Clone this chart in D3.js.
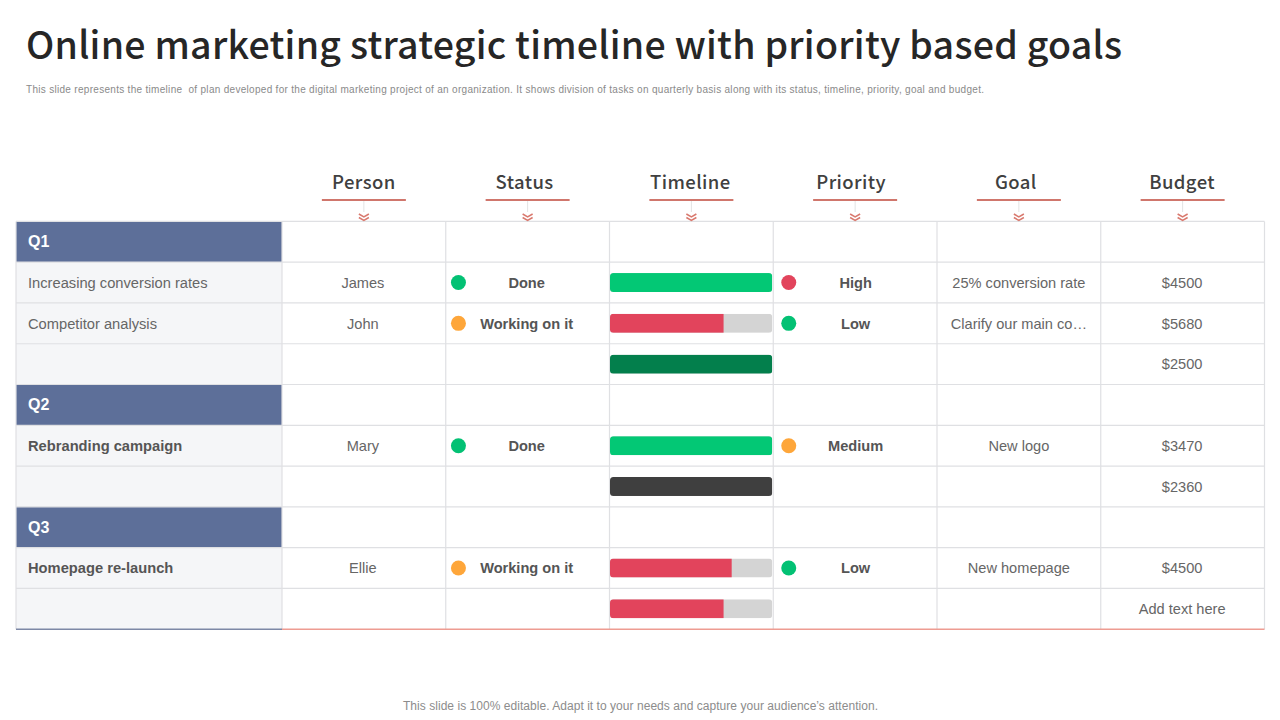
<!DOCTYPE html>
<html><head><meta charset="utf-8">
<script src="https://cdn.jsdelivr.net/npm/d3@7/dist/d3.min.js"></script>
<style>html,body{margin:0;padding:0;background:#fff}svg{display:block}text{font-family:"Liberation Sans",Arial,sans-serif}</style>
</head><body><svg id="c" width="1280" height="720"></svg>
<script>
const titleText = "Online marketing strategic timeline with priority based goals";
const subtitleText = "This slide represents the timeline  of plan developed for the digital marketing project of an organization. It shows division of tasks on quarterly basis along with its status, timeline, priority, goal and budget.";
const footerText = "This slide is 100% editable. Adapt it to your needs and capture your audience\u2019s attention.";
const columns = ["Person","Status","Timeline","Priority","Goal","Budget"];
const rowLabels = ["Q1","Increasing conversion rates","Competitor analysis","","Q2","Rebranding campaign","","Q3","Homepage re-launch",""];
const boldLabels = ["Q1","Q2","Q3","Rebranding campaign","Homepage re-launch"];
const persons = ["","James","John","","","Mary","","","Ellie",""];
const statuses = ["","Done","Working on it","","","Done","","","Working on it",""];
const priorities = ["","High","Low","","","Medium","","","Low",""];
const goals = ["","25% conversion rate","Clarify our main co\u2026","","","New logo","","","New homepage",""];
const budgets = ["","$4500","$5680","$2500","","$3470","$2360","","$4500","Add text here"];
const progress = [null,100,70,100,null,100,100,null,75,70];
const barKinds = ["","green","red","darkgreen","","green","charcoal","","red","red"];
const dotColors = {Done:"#03c174","Working on it":"#fea63a",High:"#e2445c",Low:"#03c174",Medium:"#fea63a"};
const barColors = {green:"#03c875",red:"#e2445c",darkgreen:"#037f4c",charcoal:"#3f3f3f"};

const svg = d3.select("#c");
const rows = d3.range(rowLabels.length);
const y = d3.scaleBand().domain(rows).range([221.4,629.2]);
const x = d3.scaleBand().domain(columns).range([282,1264.5]);
const left = 16, labelRight = x.range()[0], right = x.range()[1];
const cx = c => x(c)+x.bandwidth()/2;
const cy = i => y(i)+y.bandwidth()/2;
const grid = "#dfe0e3", textCol = "#666666";
const headerShift = {Person:0,Status:-3,Timeline:-1,Priority:-4,Goal:-3,Budget:-0.5};

svg.append("text").attr("x",26).attr("y",59).attr("font-size",37.5).attr("font-weight",500)
  .style("font-family","'Noto Sans CJK JP'").attr("fill","#262626").attr("textLength",1096).text(titleText);
svg.append("text").attr("x",26).attr("y",92.5).attr("font-size",10).attr("fill","#8a8a8a")
  .attr("textLength",958).attr("xml:space","preserve").text(subtitleText);
svg.append("text").attr("x",640.5).attr("y",709.5).attr("font-size",12).attr("text-anchor","middle")
  .attr("fill","#8c8c8c").attr("textLength",475).text(footerText);

// left column fills
svg.append("g").selectAll("rect").data(rows).join("rect")
  .attr("x",left).attr("y",i=>y(i)).attr("width",labelRight-left).attr("height",y.bandwidth())
  .attr("fill",i=>/^Q\d$/.test(rowLabels[i])?"#5d6f99":"#f5f6f8");

// grid
const g = svg.append("g").attr("stroke",grid).attr("stroke-width",1.2);
g.selectAll(".h").data(rows.slice(1)).join("line")
  .attr("x1",left).attr("x2",right).attr("y1",i=>y(i)).attr("y2",i=>y(i));
g.append("line").attr("x1",left).attr("x2",right).attr("y1",y(0)).attr("y2",y(0));
g.selectAll(".v").data(columns).join("line")
  .attr("x1",c=>x(c)).attr("x2",c=>x(c)).attr("y1",y(0)).attr("y2",y.range()[1]);
g.append("line").attr("x1",right).attr("x2",right).attr("y1",y(0)).attr("y2",y.range()[1]);
g.append("line").attr("x1",left).attr("x2",left).attr("y1",y(0)).attr("y2",y.range()[1]);
svg.append("line").attr("x1",left).attr("x2",labelRight).attr("y1",y.range()[1]).attr("y2",y.range()[1]).attr("stroke","#7d88a6").attr("stroke-width",1.4);
svg.append("line").attr("x1",labelRight).attr("x2",right).attr("y1",y.range()[1]).attr("y2",y.range()[1]).attr("stroke","#ee9c92").attr("stroke-width",1.4);

// column headers
const hd = svg.append("g").selectAll("g").data(columns).join("g");
hd.append("text").attr("x",c=>cx(c)+headerShift[c]).attr("y",189).attr("text-anchor","middle").attr("font-size",18.5)
  .attr("font-weight",500).attr("letter-spacing",0.4).style("font-family","'Noto Sans CJK JP'").attr("fill","#404040").text(c=>c);
hd.append("line").attr("x1",c=>cx(c)-42).attr("x2",c=>cx(c)+42).attr("y1",200).attr("y2",200)
  .attr("stroke","#d0766c").attr("stroke-width",2);
hd.append("line").attr("x1",c=>cx(c)).attr("x2",c=>cx(c)).attr("y1",201).attr("y2",212)
  .attr("stroke","#e3e3e3").attr("stroke-width",1);
[214,217.5].forEach(t=>hd.append("path")
  .attr("d",c=>d3.line()([[cx(c)-5,t],[cx(c),t+3],[cx(c)+5,t]]))
  .attr("fill","none").attr("stroke","#d9796e").attr("stroke-width",1.5));

// row labels
svg.append("g").selectAll("text").data(rows.filter(i=>rowLabels[i])).join("text")
  .attr("x",28).attr("y",i=>cy(i)+5.3).attr("font-size",i=>/^Q/.test(rowLabels[i])?16:14.7)
  .attr("font-weight",i=>boldLabels.includes(rowLabels[i])?"bold":"normal")
  .attr("fill",i=>/^Q\d$/.test(rowLabels[i])?"#fff":(boldLabels.includes(rowLabels[i])?"#555555":"#666666"))
  .text(i=>rowLabels[i]);

function textCol_(col,arr,bold,dx){
  svg.append("g").selectAll("text").data(rows.filter(i=>arr[i])).join("text")
    .attr("x",cx(col)+(dx||0)).attr("y",i=>cy(i)+5.3).attr("text-anchor","middle").attr("font-size",14.6)
    .attr("font-weight",bold?"bold":"normal").attr("fill",bold?"#555555":textCol).text(i=>arr[i]);
}
textCol_("Person",persons,false,-1);
textCol_("Status",statuses,true,-1);
textCol_("Priority",priorities,true,0.5);
textCol_("Goal",goals,false,0);
textCol_("Budget",budgets,false,-0.5);

function dots(col,arr,off){
  svg.append("g").selectAll("circle").data(rows.filter(i=>arr[i])).join("circle")
    .attr("cx",x(col)+off).attr("cy",i=>cy(i)).attr("r",7.5).attr("fill",i=>dotColors[arr[i]]);
}
dots("Status",statuses,12.7); dots("Priority",priorities,15.5);

// timeline bars
const tl = d3.scaleLinear().domain([0,100]).range([x("Timeline")+0.5,x("Timeline")+x.bandwidth()-1]);
const barRows = rows.filter(i=>progress[i]!==null);
const H = 19, defs = svg.append("defs");
barRows.forEach(i=>{
  const id="clip"+i;
  defs.append("clipPath").attr("id",id).append("rect").attr("x",tl(0)).attr("y",cy(i)-H/2)
    .attr("width",tl(100)-tl(0)).attr("height",H).attr("rx",3.5);
  const b=svg.append("g").attr("clip-path",`url(#${id})`);
  b.append("rect").attr("x",tl(0)).attr("y",cy(i)-H/2).attr("width",tl(100)-tl(0)).attr("height",H).attr("fill","#d4d4d4");
  b.append("rect").attr("x",tl(0)).attr("y",cy(i)-H/2).attr("width",tl(progress[i])-tl(0)).attr("height",H).attr("fill",barColors[barKinds[i]]);
});
</script></body></html>
